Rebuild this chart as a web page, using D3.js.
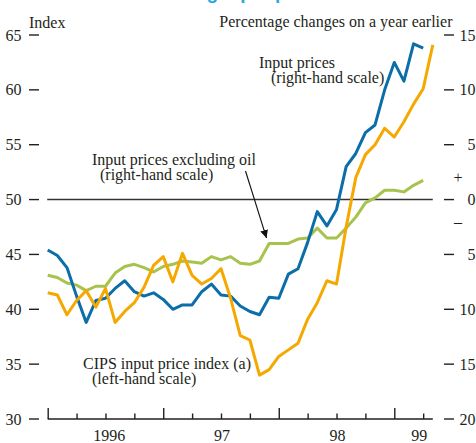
<!DOCTYPE html>
<html>
<head>
<meta charset="utf-8">
<script src="https://cdn.jsdelivr.net/npm/d3@7"></script>
<style>
  html, body { margin: 0; padding: 0; background: #ffffff; }
  svg { display: block; }
  text { font-family: "Liberation Serif", "DejaVu Serif", serif; fill: #231f20; font-size: 16px; }
</style>
</head>
<body>
<svg id="chart" width="476" height="443"></svg>
<script>
// Monthly observations, January 1996 onwards
const cipsIndex = [45.4, 44.9, 43.8, 41.2, 38.8, 40.8, 41.0, 41.9, 42.6, 41.6, 41.2, 41.5,
                   40.9, 40.0, 40.4, 40.4, 41.6, 42.3, 41.3, 41.2, 40.3, 39.8, 39.5, 41.1,
                   41.0, 43.2, 43.7, 46.1, 48.9, 47.6, 49.1, 53.0, 54.2, 56.1, 56.8, 60.0,
                   62.5, 60.8, 64.2, 63.8];
const inputPrices = [-8.5, -8.7, -10.5, -9.2, -8.3, -9.8, -8.1, -11.2, -10.2, -9.4, -8.0, -6.0,
                     -5.2, -7.5, -4.9, -6.9, -7.7, -7.2, -6.3, -9.0, -12.4, -12.8, -16.0, -15.5,
                     -14.3, -13.7, -13.1, -10.9, -9.4, -7.4, -7.7, -2.5, 2.0, 4.1, 5.0, 6.5,
                     5.7, 7.1, 8.7, 10.1, 14.1];
const inputExOil = [-6.9, -7.1, -7.6, -7.8, -8.3, -7.9, -7.9, -6.7, -6.1, -5.9, -6.2, -6.6,
                    -6.1, -5.9, -5.6, -5.7, -5.8, -5.2, -5.5, -5.2, -5.8, -5.9, -5.6, -4.0,
                    -4.0, -4.0, -3.6, -3.5, -2.6, -3.5, -3.5, -2.6, -1.6, -0.3, 0.15, 0.85,
                    0.85, 0.7, 1.3, 1.75];

const leftTicks = [30, 35, 40, 45, 50, 55, 60, 65];
const rightTicks = [-20, -15, -10, -5, 0, 5, 10, 15];
const rightTickLabels = ["20", "15", "10", "5", "0", "5", "10", "15"];
const yearLabels = ["1996", "97", "98", "99"];
const yearLabelMonths = [6.4, 18.1, 30.1, 38.6];

const svg = d3.select("#chart");

const x = d3.scaleLinear().domain([0, 40]).range([47.7, 432.8]);
const yLeft = d3.scaleLinear().domain([30, 65]).range([419, 35]);
const yRight = d3.scaleLinear().domain([-20, 15]).range([419, 35]);

const ink = "#231f20";

// Chart title, running off the top edge
svg.append("text")
  .attr("x", 160).attr("y", -1.5)
  .style("font-family", "'Liberation Sans', Arial, sans-serif")
  .style("font-weight", "bold")
  .style("font-size", "19px")
  .style("fill", "#2aa6df")
  .text("Rising input prices");

// Unit captions
svg.append("text").attr("x", 29).attr("y", 28).text("Index");
svg.append("text").attr("x", 452.5).attr("y", 27).attr("text-anchor", "end")
  .text("Percentage changes on a year earlier");

// Left axis: short dashes with labels
const lg = svg.append("g");
lg.selectAll("line").data(leftTicks).join("line")
  .attr("x1", 29).attr("x2", 39)
  .attr("y1", d => yLeft(d)).attr("y2", d => yLeft(d))
  .attr("stroke", ink).attr("stroke-width", 1.4);
lg.selectAll("text").data(leftTicks).join("text")
  .attr("x", 21.5).attr("y", d => yLeft(d) + 5.5)
  .attr("text-anchor", "end")
  .text(d => d);

// Right axis
const rg = svg.append("g");
rg.selectAll("line").data(rightTicks).join("line")
  .attr("x1", 444).attr("x2", 454)
  .attr("y1", d => yRight(d)).attr("y2", d => yRight(d))
  .attr("stroke", ink).attr("stroke-width", 1.4);
rg.selectAll("text").data(rightTicks).join("text")
  .attr("x", 475.5).attr("y", d => yRight(d) + 5.5)
  .attr("text-anchor", "end")
  .text((d, i) => rightTickLabels[i]);
svg.append("text").attr("x", 458).attr("y", yRight(2) + 5.5).attr("text-anchor", "middle")
  .text("+");
svg.append("text").attr("x", 458).attr("y", yRight(-2) + 5.5).attr("text-anchor", "middle")
  .text("\u2013");

// Zero line on the right-hand scale
svg.append("line")
  .attr("x1", x(0) - 0.5).attr("x2", x(40))
  .attr("y1", yRight(0)).attr("y2", yRight(0))
  .attr("stroke", "#333333").attr("stroke-width", 1.5);

// Time axis: quarterly ticks, taller at year starts
const xAxis = d3.axisTop(x)
  .tickValues(d3.range(0, 40, 3))
  .tickSizeOuter(0)
  .tickFormat("");
const xg = svg.append("g").attr("transform", "translate(0,419)").call(xAxis);
xg.select(".domain").attr("stroke", ink).attr("stroke-width", 1.6)
  .attr("d", `M${x(0)},0H${x(40)}`);
xg.selectAll(".tick line")
  .attr("stroke", ink).attr("stroke-width", 1.4)
  .attr("y2", d => d % 12 === 0 ? -11 : -5.5);
svg.append("g").selectAll("text").data(yearLabels).join("text")
  .attr("x", (d, i) => x(yearLabelMonths[i]))
  .attr("y", 441)
  .attr("text-anchor", "middle")
  .text(d => d);

// Series lines
function drawSeries(values, yScale, colour) {
  const line = d3.line()
    .x((d, i) => x(i))
    .y(d => yScale(d));
  svg.append("path")
    .datum(values)
    .attr("d", line)
    .attr("fill", "none")
    .attr("stroke", colour)
    .attr("stroke-width", 3)
    .attr("stroke-linejoin", "round");
}
drawSeries(inputExOil, yRight, "#a8c34d");
drawSeries(cipsIndex, yLeft, "#0b6ea9");
drawSeries(inputPrices, yRight, "#f5a800");

// Two-line series annotations
function label(lines, xPos, yPos) {
  const t = svg.append("text");
  lines.forEach((s, i) => {
    t.append("tspan").attr("x", xPos[i]).attr("y", yPos[i]).text(s);
  });
}
label(["Input prices", "(right-hand scale)"], [259, 271], [68, 83]);
label(["Input prices excluding oil", "(right-hand scale)"], [92, 100], [165, 180]);
label(["CIPS input price index (a)", "(left-hand scale)"], [83, 92], [369, 384]);

// Arrow to the ex-oil series
const defs = svg.append("defs");
defs.append("marker")
  .attr("id", "head")
  .attr("viewBox", "0 0 10 10")
  .attr("refX", 10).attr("refY", 5)
  .attr("markerWidth", 8).attr("markerHeight", 8)
  .attr("markerUnits", "userSpaceOnUse")
  .attr("orient", "auto")
  .append("path").attr("d", "M0,0L10,5L0,10Z").attr("fill", "#111");
svg.append("line")
  .attr("x1", 245.5).attr("y1", 171)
  .attr("x2", 266.5).attr("y2", 238)
  .attr("stroke", "#111").attr("stroke-width", 1.1)
  .attr("marker-end", "url(#head)");
</script>
</body>
</html>
